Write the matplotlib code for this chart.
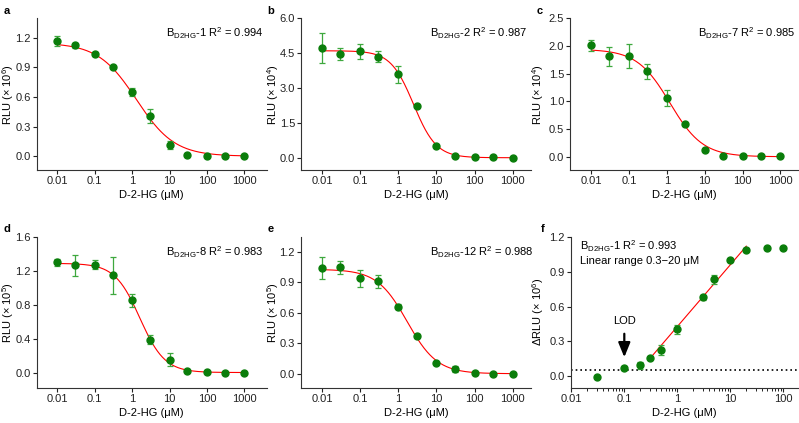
import numpy as np
import matplotlib
matplotlib.use("Agg")
from matplotlib import pyplot as plt
from matplotlib.ticker import FixedLocator, FixedFormatter, LogLocator, NullFormatter

plt.rcParams['font.family'] = ['Liberation Sans', 'DejaVu Sans']
plt.rcParams['font.size'] = 8
plt.rcParams['mathtext.fontset'] = 'custom'
plt.rcParams['mathtext.rm'] = 'Liberation Sans'

conc = [0.01, 0.03, 0.1, 0.3, 1, 3, 10, 30, 100, 300, 1000]

# panel data (mean, sd)
a_y = [1.165, 1.125, 1.035, 0.91, 0.655, 0.405, 0.115, 0.01, 0.0, 0.0, 0.0]
a_err = [0.05, 0.025, 0.02, 0.01, 0.04, 0.07, 0.04, 0.0, 0.0, 0.0, 0.0]
b_y = [4.72, 4.45, 4.57, 4.35, 3.58, 2.22, 0.50, 0.07, 0.02, 0.01, 0.0]
b_err = [0.63, 0.25, 0.32, 0.22, 0.38, 0.05, 0.05, 0.03, 0.0, 0.0, 0.0]
c_y = [2.01, 1.81, 1.82, 1.54, 1.06, 0.59, 0.12, 0.02, 0.01, 0.01, 0.01]
c_err = [0.10, 0.17, 0.21, 0.13, 0.14, 0.02, 0.02, 0.0, 0.0, 0.0, 0.0]
d_y = [1.30, 1.265, 1.275, 1.15, 0.855, 0.395, 0.16, 0.03, 0.015, 0.01, 0.01]
d_err = [0.045, 0.12, 0.05, 0.22, 0.08, 0.05, 0.075, 0.01, 0.0, 0.0, 0.0]
e_y = [1.04, 1.05, 0.94, 0.91, 0.66, 0.37, 0.105, 0.045, 0.01, 0.0, 0.0]
e_err = [0.11, 0.065, 0.08, 0.06, 0.025, 0.02, 0.01, 0.03, 0.0, 0.0, 0.0]

# 4PL fit params: top, bottom, IC50, hill
a_fit = (1.15, 0.0, 1.3, 0.85)
b_fit = (4.6, 0.0, 2.5, 1.45)
c_fit = (1.94, 0.0, 1.2, 1.0)
d_fit = (1.29, 0.01, 1.6, 1.3)
e_fit = (1.03, 0.0, 1.7, 1.1)

f_x = [0.03, 0.1, 0.2, 0.3, 0.5, 1, 3, 5, 10, 20, 50, 100]
f_y = [-0.01, 0.07, 0.095, 0.155, 0.225, 0.405, 0.68, 0.835, 1.0, 1.09, 1.105, 1.105]
f_err = [0.0, 0.02, 0.03, 0.01, 0.04, 0.04, 0.02, 0.04, 0.01, 0.01, 0.0, 0.0]
f_line = (0.428, 0.532)  # intercept at 1 uM, slope per decade
f_range = (0.3, 20)
lod_level = 0.055

panels = [
    ('a', a_y, a_err, a_fit, '1', '0.994', '6', [0, 0.3, 0.6, 0.9, 1.2], (-0.14, 1.4), (10**-2.55, 10**3.6)),
    ('b', b_y, b_err, b_fit, '2', '0.987', '4', [0, 1.5, 3.0, 4.5, 6.0], (-0.53, 6.0), (10**-2.55, 10**3.47)),
    ('c', c_y, c_err, c_fit, '7', '0.985', '4', [0, 0.5, 1.0, 1.5, 2.0, 2.5], (-0.24, 2.5), (10**-2.55, 10**3.47)),
    ('d', d_y, d_err, d_fit, '8', '0.983', '5', [0, 0.4, 0.8, 1.2, 1.6], (-0.17, 1.6), (10**-2.55, 10**3.6)),
    ('e', e_y, e_err, e_fit, '12', '0.988', '5', [0, 0.3, 0.6, 0.9, 1.2], (-0.14, 1.35), (10**-2.55, 10**3.47)),
]

pos = [
    [0.046, 0.598, 0.288, 0.359],
    [0.377, 0.598, 0.287, 0.359],
    [0.714, 0.598, 0.285, 0.359],
    [0.046, 0.083, 0.288, 0.357],
    [0.377, 0.083, 0.287, 0.357],
    [0.715, 0.083, 0.284, 0.357],
]
W = 799
# right edge (px) of each rotated y label
ylab_px = [16, 281, 546, 16, 281, 546]

green = '#0a7d0a'
errc = '#3ea83e'

fig = plt.figure(figsize=(7.99, 4.23), dpi=100)


def style(ax, i):
    for s in ['top', 'right']:
        ax.spines[s].set_visible(False)
    for s in ['left', 'bottom']:
        ax.spines[s].set_linewidth(0.8)
        ax.spines[s].set_color('#333333')
    ax.tick_params(direction='out', length=3, width=0.8, pad=1.5, labelsize=8, colors='#222222')
    lx = (ylab_px[i] - pos[i][0] * W) / (pos[i][2] * W)
    ax.yaxis.set_label_coords(lx, 0.5)


xt = [0.01, 0.1, 1, 10, 100, 1000]
xtl = ['0.01', '0.1', '1', '10', '100', '1000']

for i, (let, y, err, fit, num, r2, ex, yt, ylim, xlim) in enumerate(panels):
    ax = fig.add_axes(pos[i])
    ax.set_xscale('log')
    top, bot, ic50, h = fit
    xs = np.logspace(-2, 3, 300)
    ax.plot(xs, bot + (top - bot) / (1 + (xs / ic50) ** h), color='red', lw=0.8, zorder=2)
    ax.errorbar(conc, y, yerr=err, fmt='o', color=green, ms=5, ecolor=errc,
                elinewidth=0.9, capsize=2.4, capthick=0.9, zorder=3)
    ax.set_xlim(xlim)
    ax.set_ylim(ylim)
    ax.xaxis.set_major_locator(FixedLocator(xt))
    ax.xaxis.set_major_formatter(FixedFormatter(xtl))
    ax.xaxis.set_minor_locator(FixedLocator([]))
    ax.set_yticks(yt)
    ax.set_yticklabels(['%.1f' % v for v in yt])
    ax.set_xlabel('D-2-HG (μM)', fontsize=8, labelpad=3)
    ax.set_ylabel('RLU (× 10$^{%s}$)' % ex, fontsize=8)
    ax.text(0.56, 0.95, 'B$_{\\mathregular{D2HG}}$-%s R$^2$ = %s' % (num, r2),
            transform=ax.transAxes, fontsize=8, va='top', ha='left')
    style(ax, i)
    fig.text(pos[i][0] - 0.042, pos[i][1] + pos[i][3] + 0.018, let,
             fontsize=8, fontweight='bold', va='center')

# panel f
ax = fig.add_axes(pos[5])
ax.set_xscale('log')
ax.axhline(lod_level, color='black', lw=1.2, ls=(0, (1, 1.8)), zorder=1)
lx = np.logspace(np.log10(f_range[0]), np.log10(f_range[1]), 50)
ax.plot(lx, f_line[0] + f_line[1] * np.log10(lx), color='red', lw=0.8, zorder=2)
ax.errorbar(f_x, f_y, yerr=f_err, fmt='o', color=green, ms=5, ecolor=errc,
            elinewidth=0.9, capsize=2.4, capthick=0.9, zorder=3)
ax.annotate('', xy=(0.1, 0.14), xytext=(0.1, 0.39),
            arrowprops=dict(arrowstyle='-|>,head_width=0.45,head_length=1.1',
                            color='black', lw=1.6))
ax.text(0.1, 0.43, 'LOD', ha='center', va='bottom', fontsize=8)
ax.set_xlim(0.01, 10**2.28)
ax.set_ylim(-0.1, 1.2)
ax.xaxis.set_major_locator(FixedLocator([0.01, 0.1, 1, 10, 100]))
ax.xaxis.set_major_formatter(FixedFormatter(['0.01', '0.1', '1', '10', '100']))
ax.xaxis.set_minor_locator(LogLocator(base=10, subs=np.arange(2, 10)))
ax.xaxis.set_minor_formatter(NullFormatter())
fyt = [0, 0.3, 0.6, 0.9, 1.2]
ax.set_yticks(fyt)
ax.set_yticklabels(['%.1f' % v for v in fyt])
ax.set_xlabel('D-2-HG (μM)', fontsize=8, labelpad=3)
ax.set_ylabel('ΔRLU (× 10$^{6}$)', fontsize=8)
ax.text(0.04, 0.99, 'B$_{\\mathregular{D2HG}}$-1 R$^2$ = 0.993\nLinear range 0.3\u221220 μM',
        transform=ax.transAxes, fontsize=8, va='top', ha='left', linespacing=1.3)
style(ax, 5)
ax.tick_params(which='minor', length=1.8, width=0.6)
fig.text(pos[5][0] - 0.038, pos[5][1] + pos[5][3] + 0.018, 'f',
         fontsize=8, fontweight='bold', va='center')

fig.savefig('out.png', dpi=100)
